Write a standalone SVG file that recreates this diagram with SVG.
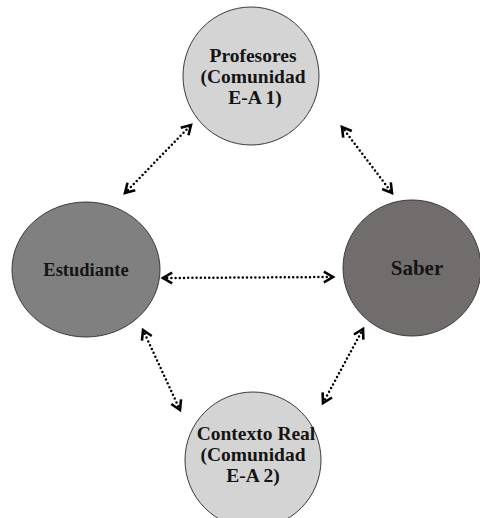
<svg xmlns="http://www.w3.org/2000/svg" width="480" height="518" viewBox="0 0 480 518">
<style>
.node ellipse{stroke:#3a3a3a;stroke-width:1}
.light{fill:#d4d4d4}
.mid{fill:#808080}
.dark{fill:#716d6d}
text{font-family:"Liberation Serif","Times New Roman",serif;font-weight:bold;fill:#141414;text-anchor:middle}
.conn path{fill:none;stroke:#000;stroke-width:2.5;stroke-linecap:round;stroke-dasharray:0 4.2;marker-start:url(#ah);marker-end:url(#ah)}
</style>
<defs>
<marker id="ah" markerUnits="userSpaceOnUse" markerWidth="14" markerHeight="14" viewBox="-1 -1 13 13" refX="10" refY="5.5" orient="auto-start-reverse" overflow="visible">
<path d="M1.5,0.5 L10,5.5 L1.5,10.5" fill="none" stroke="#000" stroke-width="2.4" stroke-dasharray="none" stroke-linejoin="miter" stroke-linecap="butt"/>
</marker>
</defs>
<rect width="480" height="518" fill="#fff"/>
<g id="profesores" class="node">
<ellipse class="light" cx="251" cy="76" rx="68" ry="69"/>
<text x="253" y="62" font-size="19.5">Profesores</text>
<text x="253" y="83" font-size="19.5">(Comunidad</text>
<text x="255" y="104" font-size="19.5">E-A 1)</text>
</g>
<g id="estudiante" class="node">
<ellipse class="mid" cx="86" cy="269.5" rx="74" ry="67.5"/>
<text x="86" y="276" font-size="18.5">Estudiante</text>
</g>
<g id="saber" class="node">
<ellipse class="dark" cx="412" cy="268" rx="69" ry="68"/>
<text x="417" y="275" font-size="21">Saber</text>
</g>
<g id="contexto" class="node">
<ellipse class="light" cx="253" cy="460" rx="68" ry="68"/>
<text x="256" y="440" font-size="19.5">Contexto Real</text>
<text x="253" y="461" font-size="19.5">(Comunidad</text>
<text x="253" y="482" font-size="19.5">E-A 2)</text>
</g>
<g id="connectors" class="conn">
<path d="M125,193 L191,125"/>
<path d="M342,127 L392,193"/>
<path d="M163,278 L333,277"/>
<path d="M143,330 L180,410"/>
<path d="M363,329 L323,403"/>
</g>
</svg>
